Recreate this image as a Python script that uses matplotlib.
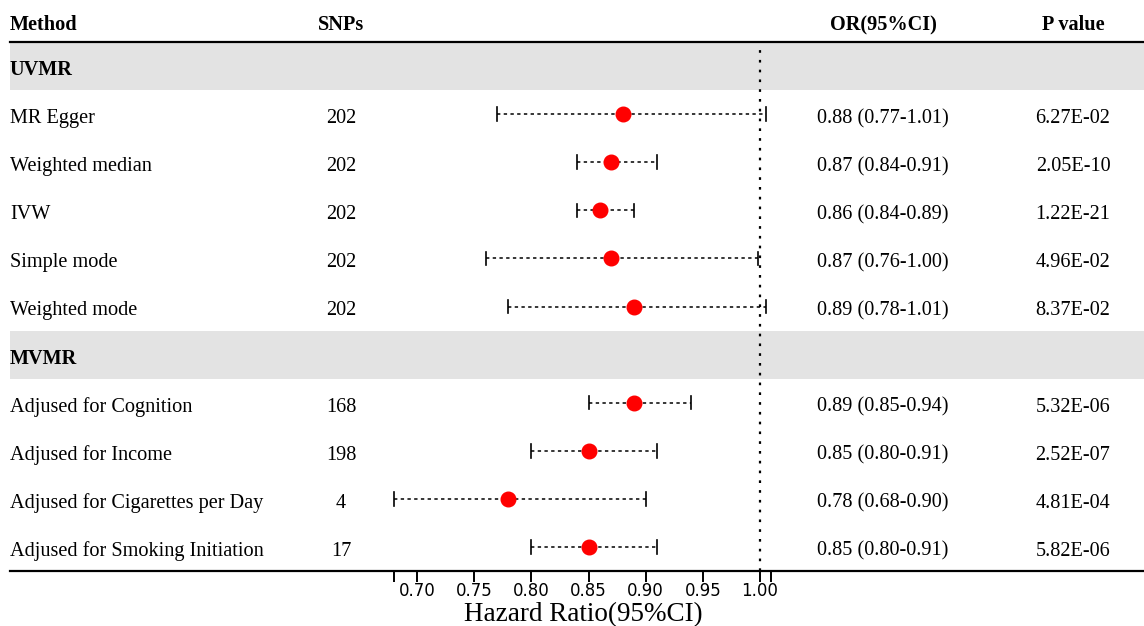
import numpy as np
import matplotlib.pyplot as plt

# Forest plot data
rows = ["UVMR", "MR Egger", "Weighted median", "IVW", "Simple mode", "Weighted mode",
        "MVMR", "Adjused for Cognition", "Adjused for Income",
        "Adjused for Cigarettes per Day", "Adjused for Smoking Initiation"]
is_header = [True, False, False, False, False, False, True, False, False, False, False]
snps = ["", "202", "202", "202", "202", "202", "", "168", "198", "4", "17"]
or_est = [np.nan, 0.88, 0.87, 0.86, 0.87, 0.89, np.nan, 0.89, 0.85, 0.78, 0.85]
ci_low = [np.nan, 0.77, 0.84, 0.84, 0.76, 0.78, np.nan, 0.85, 0.80, 0.68, 0.80]
ci_high = [np.nan, 1.005, 0.91, 0.89, 0.998, 1.005, np.nan, 0.94, 0.91, 0.90, 0.91]
or_text = ["", "0.88 (0.77-1.01)", "0.87 (0.84-0.91)", "0.86 (0.84-0.89)",
           "0.87 (0.76-1.00)", "0.89 (0.78-1.01)", "", "0.89 (0.85-0.94)",
           "0.85 (0.80-0.91)", "0.78 (0.68-0.90)", "0.85 (0.80-0.91)"]
p_text = ["", "6.27E-02", "2.05E-10", "1.22E-21", "4.96E-02", "8.37E-02", "",
          "5.32E-06", "2.52E-07", "4.81E-04", "5.82E-06"]
tick_vals = [0.68, 0.70, 0.75, 0.80, 0.85, 0.90, 0.95, 1.00, 1.01]
tick_labels = ["", "0.70", "0.75", "0.80", "0.85", "0.90", "0.95", "1.00", ""]

W, H = 1144, 626
fig = plt.figure(figsize=(W / 100, H / 100), dpi=100)
ax = fig.add_axes([10 / W, (H - 571) / H, (W - 10) / W, (571 - 42) / H])

# x mapping: 0.70 at px 417, 1.00 at px 760
ppu = (760 - 417) / 0.30
ax.set_xlim(0.70 - (417 - 10) / ppu, 0.70 + (W - 417) / ppu)
n = len(rows)
ax.set_ylim(n, 0)

serif = "Liberation Serif"
fs = 14.6
dy = 0.09  # text sits a little below the row centre
trans = ax.get_yaxis_transform()  # x in axes, y in data
col_snp, col_or, col_p = (341 - 10) / (W - 10), (883 - 10) / (W - 10), (1073 - 10) / (W - 10)

for i, name in enumerate(rows):
    y = i + 0.5
    if is_header[i]:
        ax.axhspan(i, i + 1, color="#e3e3e3", lw=0, zorder=0)
        ax.text(0, y + dy, name, transform=trans, ha="left", va="center",
                family=serif, fontsize=fs, fontweight="bold")
        continue
    for x, s, ha in [(0, name, "left"), (col_snp, snps[i], "center"),
                     (col_or, or_text[i], "center"), (col_p, p_text[i], "center")]:
        ax.text(x, y + dy, s, transform=trans, ha=ha, va="center", family=serif, fontsize=fs)
    ax.plot([ci_low[i], ci_high[i]], [y, y], color="black", lw=1.1,
            linestyle=(0, (2.2, 2.2)), zorder=2)
    ax.plot([ci_low[i]] * 2, [y - 0.14, y + 0.14], color="black", lw=1.2, zorder=2)
    ax.plot([ci_high[i]] * 2, [y - 0.14, y + 0.14], color="black", lw=1.2, zorder=2)
    ax.plot(or_est[i], y, "o", color="#ff0000", markersize=10.5, zorder=3)

# column headers
for x, label in [(0, "Method"), (col_snp, "SNPs"), (col_or, "OR(95%CI)"), (col_p, "P value")]:
    ax.text(x, -0.44 + dy, label, transform=trans, ha="left" if x == 0 else "center",
            va="center", family=serif, fontsize=fs, fontweight="bold", clip_on=False)

ax.axvline(1.0, color="black", lw=1.6, linestyle=(0, (1.2, 3.2)), zorder=1)

for s in ["left", "right"]:
    ax.spines[s].set_visible(False)
ax.spines["top"].set_linewidth(1.6)
ax.spines["bottom"].set_linewidth(1.6)
ax.set_yticks([])
ax.set_xticks(tick_vals)
ax.set_xticklabels(tick_labels, fontsize=12, family="DejaVu Sans")
ax.tick_params(axis="x", length=8, width=1.4, pad=0)
fig.text(583 / W, (H - 621) / H, "Hazard Ratio(95%CI)", ha="center", va="baseline",
         family=serif, fontsize=19.5)

fig.savefig("out.png", dpi=100)
